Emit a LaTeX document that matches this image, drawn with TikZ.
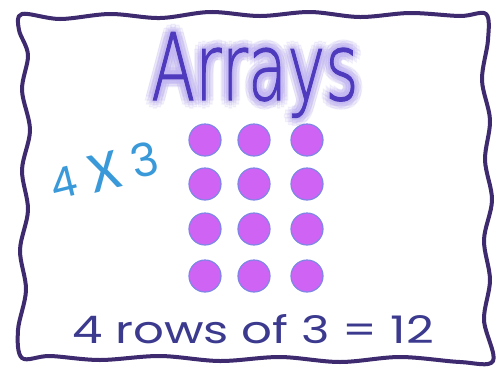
\documentclass[tikz,border=0pt]{standalone}
\usepackage{fontspec}
\newfontfamily\pop{Poppins}
\newfontfamily\carl{Carlito}
\newfontfamily\dvl{DejaVuSans-ExtraLight.ttf}[FakeBold=1.2]
\definecolor{frame}{HTML}{3E2A6E}
\definecolor{dotfill}{HTML}{CF63F4}
\definecolor{dotline}{HTML}{7F86E6}
\definecolor{titlec}{HTML}{4E3ABD}
\definecolor{glowc}{HTML}{C4B8F2}
\definecolor{bluec}{HTML}{3A9AD9}
\definecolor{bottomc}{HTML}{3B3A8E}
\begin{document}
\begin{tikzpicture}[x=1pt,y=-1pt,
  dot/.style={circle,fill=dotfill,draw=dotline,line width=1.2pt,minimum size=32pt,inner sep=0pt},
  titletext/.style={font=\dvl\fontsize{93}{96}\selectfont,xscale=0.69,inner sep=0pt,anchor=base},
  glow/.style={titletext,text=glowc,opacity=0.16},
  hand/.style={text=bluec,inner sep=0pt,rotate=14},
  bottomtext/.style={font=\pop\fontsize{38}{40}\selectfont,xscale=1.27,text=bottomc,inner sep=0pt,anchor=base}]
\useasboundingbox[fill=white] (0,0) rectangle (499,368);
% wavy border
\draw[frame,line width=4pt,line join=round] plot[smooth cycle,tension=0.55] coordinates {
 (22,14) (60,19) (110,14) (160,18) (210,12) (260,16) (310,12) (360,17) (410,13) (460,16) (486,14)
 (488,40) (482,80) (490,120) (485,160) (492,200) (484,240) (490,280) (484,320) (493,361)
 (460,362) (400,357) (340,362) (280,357) (220,361) (160,356) (100,360) (50,356) (22,358)
 (18,330) (26,290) (20,250) (28,210) (22,170) (30,130) (22,90) (28,55) (19,30)};
% title with glow
\coordinate (tc) at (255,100);
\foreach \a in {0,30,...,330}{
  \path (tc) ++(\a:8) node[glow] {Arrays};
  \path (tc) ++(\a:5) node[glow] {Arrays};
  \path (tc) ++(\a:2.5) node[glow] {Arrays};
}
\node[titletext,text=titlec] (title) at (tc) {Arrays};
% 4 x 3
\node[hand,font=\pop\fontsize{42}{44}\selectfont] (four) at (64,183) {4};
\node[hand,font=\carl\fontsize{58}{60}\selectfont] (times) at (105,172) {X};
\node[hand,font=\pop\fontsize{46}{48}\selectfont] (three) at (145,160) {3};
% dots
\foreach \r/\y in {1/140,2/184,3/229,4/276}{
  \foreach \c/\x in {1/205,2/254,3/307}{
    \node[dot] (d\r\c) at (\x,\y) {};
  }
}
% bottom text
\node[bottomtext] (eq) at (253,343) {4 rows of 3 = 12};
\end{tikzpicture}
\end{document}
